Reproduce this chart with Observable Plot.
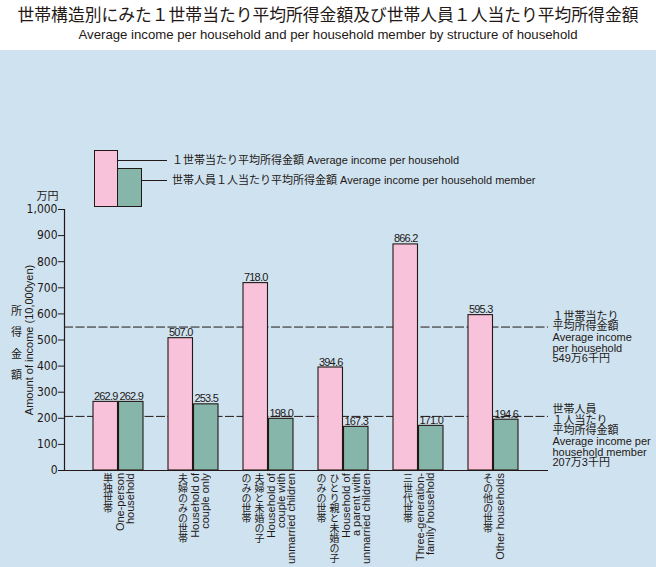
<!DOCTYPE html>
<html>
<head>
<meta charset="utf-8">
<script src="https://cdn.jsdelivr.net/npm/d3@7"></script>
<script src="https://cdn.jsdelivr.net/npm/@observablehq/plot@0.6"></script>
<style>
  html, body { margin: 0; padding: 0; background: #ffffff; }
  body { width: 656px; height: 567px; overflow: hidden; font-family: "Liberation Sans", "Noto Sans CJK JP", sans-serif; color: #231815; }
  #head { height: 50px; position: relative; }
  #title { position: absolute; left: 0; width: 656px; top: 2px; text-align: center; font-family: "Noto Sans CJK JP", sans-serif; font-size: 16.8px; line-height: 24px; }
  #subtitle { position: absolute; left: 0; width: 656px; top: 27px; text-align: center; font-family: "Liberation Sans", sans-serif; font-size: 13.2px; line-height: 16px; }
  #wrap { position: relative; width: 656px; height: 517px; background: #cfe2f0; }
  #wrap svg { position: absolute; left: 0; top: 0; }
  .cat { position: absolute; display: flex; flex-direction: row; align-items: flex-start; transform: translateX(-50%); }
  .jp { writing-mode: vertical-rl; text-orientation: upright; font-family: "Noto Sans CJK JP", sans-serif; font-size: 10px; line-height: 13px; white-space: pre; }
  .en { writing-mode: vertical-rl; transform: rotate(180deg); text-align: end; font-family: "Liberation Sans", sans-serif; font-size: 11px; line-height: 10px; white-space: pre; }
  .box { position: absolute; border: 1px solid #231815; box-sizing: border-box; }
  .hl { position: absolute; height: 0; border-top: 1px solid #231815; }
  .lt { position: absolute; font-size: 11px; line-height: 14px; white-space: nowrap; font-family: "Liberation Sans", "Noto Sans CJK JP", sans-serif; }
  g[aria-label="y-axis tick label"] text { font-stretch: condensed; }
</style>
</head>
<body>
<div id="head">
  <div id="title">世帯構造別にみた１世帯当たり平均所得金額及び世帯人員１人当たり平均所得金額</div>
  <div id="subtitle">Average income per household and per household member by structure of household</div>
</div>
<div id="wrap"></div>
<script>
// ---- data ----
const categories = ["単独世帯", "夫婦のみの世帯", "夫婦と未婚の子のみの世帯", "ひとり親と未婚の子のみの世帯", "三世代世帯", "その他の世帯"];
const jpLines = [["単独世帯"], ["夫婦のみの世帯"], ["夫婦と未婚の子", "のみの世帯"], ["ひとり親と未婚の子", "のみの世帯"], ["三世代世帯"], ["その他の世帯"]];
const enLines = [["One-person", "household"], ["Household of", "couple only"], ["Household of", "couple with", "unmarried children"], ["Household of", "a parent with", "unmarried children"], ["Three-generation-", "family household"], ["Other households"]];
const perHousehold = [262.9, 507.0, 718.0, 394.6, 866.2, 595.3];
const perMember = [262.9, 253.5, 198.0, 167.3, 171.0, 194.6];
const avgHousehold = 549.6;
const avgMember = 207.3;
const yTicks = [0, 100, 200, 300, 400, 500, 600, 700, 800, 900, 1000];
const legendLabels = ["１世帯当たり平均所得金額 Average income per household", "世帯人員１人当たり平均所得金額 Average income per household member"];
const avgLabels = ["１世帯当たり\n平均所得金額\nAverage income\nper household\n549万6千円", "世帯人員\n１人当たり\n平均所得金額\nAverage income per\nhousehold member\n207万3千円"];
const yLabelJp = "所\n得\n金\n額";
const yLabelEn = "Amount of income (10,000yen)";
const unitLabel = "万円";

// ---- styling ----
const pink = "#f8c2da";
const green = "#86b5a9";
const ink = "#231815";
const narrow = "'Liberation Sans Narrow', 'DejaVu Sans Condensed', 'DejaVu Sans', sans-serif";
const valueFont = "'Liberation Sans', Arial, sans-serif";

const rows = categories.map((c, i) => ({cat: c, household: perHousehold[i], member: perMember[i]}));

const W = 656, H = 517;
const mL = 64, mR = 108, mT = 159, mB = 97;
const pIn = 0.328, pOut = 0.352;
const half = d3.scaleBand().domain(categories).range([mL, W - mR]).paddingInner(pIn).paddingOuter(pOut).bandwidth() / 2;

const chart = Plot.plot({
  width: W, height: H,
  marginLeft: mL, marginRight: mR, marginTop: mT, marginBottom: mB,
  style: {background: "transparent", color: ink, overflow: "visible"},
  x: {domain: categories, paddingInner: pIn, paddingOuter: pOut, axis: null},
  y: {domain: [0, 1000], axis: null},
  marks: [
    Plot.ruleY([avgHousehold, avgMember], {stroke: ink, strokeWidth: 1, strokeDasharray: "9,2.5"}),
    Plot.barY(rows, {x: "cat", y: "household", fill: pink, stroke: ink, strokeWidth: 1.1, insetRight: half}),
    Plot.barY(rows, {x: "cat", y: "member", fill: green, stroke: ink, strokeWidth: 1.1, insetLeft: half}),
    Plot.text(rows, {x: "cat", y: "household", text: d => d.household.toFixed(1), dx: -half / 2, dy: -2, lineAnchor: "bottom", fontSize: 11, fontFamily: valueFont, fill: ink}),
    Plot.text(rows, {x: "cat", y: "member", text: d => d.member.toFixed(1), dx: half / 2, dy: -2, lineAnchor: "bottom", fontSize: 11, fontFamily: valueFont, fill: ink}),
    Plot.ruleY([0], {stroke: ink, strokeWidth: 1.2}),
    Plot.frame({anchor: "left", stroke: ink, strokeWidth: 1.2}),
    Plot.axisY({ticks: yTicks, tickFormat: d3.format(","), tickSize: 6, tickPadding: 1, fontSize: 12, fontFamily: narrow, label: null, stroke: ink}),
    Plot.text([unitLabel], {frameAnchor: "top-left", textAnchor: "end", dx: -6, dy: -17, fontSize: 11, fontFamily: "'Noto Sans CJK JP', sans-serif", fill: ink}),
    Plot.text([yLabelJp], {frameAnchor: "left", textAnchor: "middle", dx: -48, lineHeight: 1.95, fontSize: 11, fontFamily: "'Noto Sans CJK JP', sans-serif", fill: ink}),
    Plot.text([yLabelEn], {frameAnchor: "left", textAnchor: "middle", dx: -35, rotate: -90, fontSize: 11, fontFamily: "'Liberation Sans', sans-serif", fill: ink}),
    Plot.text([avgHousehold], {y: d => d, text: () => avgLabels[0], frameAnchor: "right", textAnchor: "start", dx: 4, dy: 10.5, lineHeight: 0.97, fontSize: 11, fontFamily: "'Liberation Sans', 'Noto Sans CJK JP', sans-serif", fill: ink}),
    Plot.text([avgMember], {y: d => d, text: () => avgLabels[1], frameAnchor: "right", textAnchor: "start", dx: 4, dy: 20, lineHeight: 0.97, fontSize: 11, fontFamily: "'Liberation Sans', 'Noto Sans CJK JP', sans-serif", fill: ink})
  ]
});

// tighten the value labels (the reference uses a condensed face)
d3.select(chart).selectAll("g").filter(function () {
  return this.getAttribute("font-family") === valueFont;
}).style("letter-spacing", "-0.8px");

const wrap = document.getElementById("wrap");
wrap.appendChild(chart);

// category labels positioned with the plot's x scale
const xs = chart.scale("x");
const ys = chart.scale("y");
const axisBottom = ys.apply(0);
categories.forEach((c, i) => {
  const div = document.createElement("div");
  div.className = "cat";
  div.style.left = (xs.apply(c) + xs.bandwidth / 2) + "px";
  div.style.top = (axisBottom + 3) + "px";
  const jp = document.createElement("div");
  jp.className = "jp";
  jp.textContent = jpLines[i].join("\n");
  const en = document.createElement("div");
  en.className = "en";
  en.textContent = enLines[i].join("\n");
  div.appendChild(jp);
  div.appendChild(en);
  wrap.appendChild(div);
});

// legend
function el(cls, styles, text) {
  const d = document.createElement("div");
  d.className = cls;
  Object.assign(d.style, styles);
  if (text) d.textContent = text;
  wrap.appendChild(d);
}
el("box", {left: "94px", top: "100px", width: "24px", height: "57px", background: pink});
el("box", {left: "117px", top: "118px", width: "25px", height: "39px", background: green});
el("hl", {left: "118px", top: "110px", width: "49px"});
el("hl", {left: "142px", top: "130px", width: "25px"});
el("lt", {left: "172px", top: "103px"}, legendLabels[0]);
el("lt", {left: "172px", top: "123px"}, legendLabels[1]);
</script>
</body>
</html>
